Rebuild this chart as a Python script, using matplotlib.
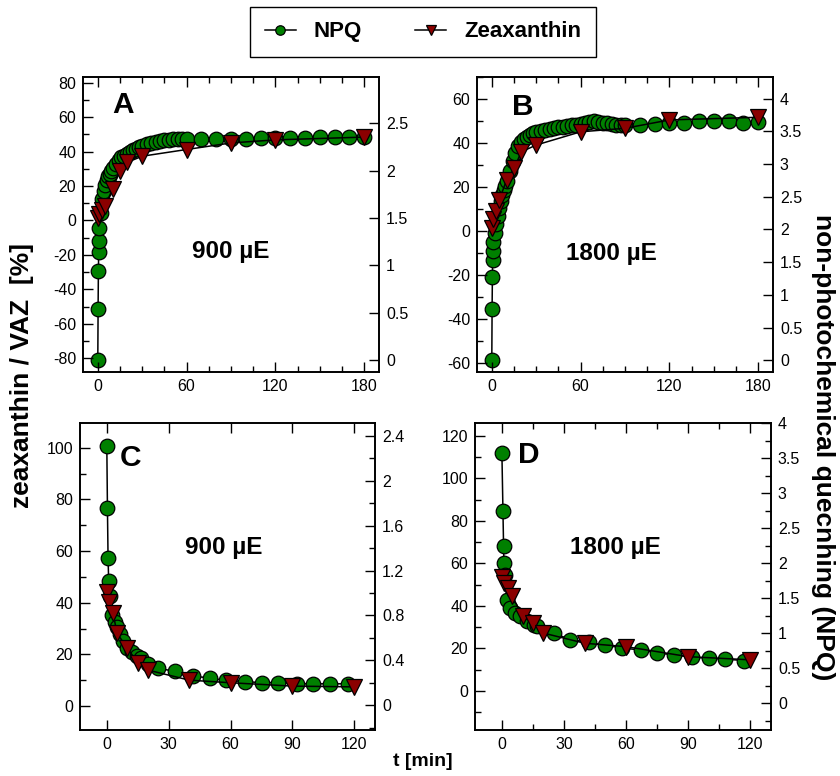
import matplotlib
matplotlib.use('Agg')
import matplotlib.pyplot as plt
from matplotlib.ticker import MultipleLocator, FormatStrFormatter

plt.rcParams['font.family'] = ['Liberation Sans', 'DejaVu Sans']
plt.rcParams['axes.unicode_minus'] = False

# --- panel A: induction, 900 uE ---
a_t_npq = [0, 0.2, 0.4, 0.6, 0.8, 1, 2, 3, 4, 5, 6, 7, 8, 9, 10, 12, 14, 16, 18, 20,
           22, 24, 26, 28, 30, 33, 36, 39, 42, 45, 48, 51, 54, 57, 60,
           70, 80, 90, 100, 110, 120, 130, 140, 150, 160, 170, 180]
a_npq = [0.0, 0.54, 0.94, 1.14, 1.26, 1.39, 1.55, 1.70, 1.79, 1.85, 1.90, 1.94, 1.97, 2.00,
         2.03, 2.07, 2.11, 2.14, 2.16, 2.18, 2.20, 2.22, 2.23, 2.25, 2.26, 2.28, 2.29, 2.30,
         2.31, 2.32, 2.32, 2.33, 2.33, 2.34, 2.34,
         2.33, 2.34, 2.34, 2.34, 2.35, 2.35, 2.35, 2.35, 2.36, 2.36, 2.36, 2.36]
a_t_zea = [0, 1, 3, 5, 10, 15, 20, 30, 60, 90, 120, 180]
a_zea = [1.2, 3.7, 6.0, 8.6, 18.3, 29.0, 33.8, 37.3, 41.2, 45.0, 46.8, 48.4]

# --- panel B: induction, 1800 uE ---
b_t_npq = [0, 0.2, 0.4, 0.6, 0.8, 1, 2, 3, 4, 5, 6, 7, 8, 9, 10, 12, 14, 16, 18, 20,
           22, 24, 26, 28, 30, 33, 36, 39, 42, 45, 48, 51, 54, 57, 60, 63, 66, 69,
           72, 75, 78, 81, 84, 87, 90, 100, 110, 120, 130, 140, 150, 160, 170, 180]
b_npq = [0.0, 0.79, 1.27, 1.53, 1.67, 1.81, 1.95, 2.08, 2.20, 2.33, 2.44, 2.52, 2.60, 2.67,
         2.74, 2.90, 3.05, 3.17, 3.27, 3.33, 3.38, 3.42, 3.45, 3.47, 3.49, 3.51, 3.52, 3.53,
         3.55, 3.56, 3.57, 3.58, 3.59, 3.60, 3.61, 3.62, 3.64, 3.65, 3.64, 3.63, 3.62, 3.61,
         3.60, 3.60, 3.60, 3.60, 3.61, 3.62, 3.63, 3.65, 3.66, 3.66, 3.63, 3.64]
b_t_zea = [0, 1, 3, 5, 10, 15, 20, 30, 60, 90, 120, 180]
b_zea = [1.5, 5.5, 9.2, 14.1, 23.2, 28.5, 36.0, 39.1, 45.1, 46.7, 50.5, 51.7]

# --- panel C: relaxation, 900 uE ---
c_t_npq = [0, 0.3, 0.6, 0.9, 1.3, 2.4, 4, 5, 6.5, 8, 10, 12, 14.5, 16.5, 20, 25, 33, 42,
           50, 58, 67, 75, 83, 92, 100, 108, 117]
c_npq = [2.31, 1.76, 1.31, 1.11, 0.97, 0.80, 0.74, 0.70, 0.63, 0.57, 0.51, 0.47, 0.44,
         0.42, 0.37, 0.33, 0.30, 0.26, 0.24, 0.22, 0.21, 0.20, 0.20, 0.19, 0.19, 0.19, 0.19]
c_t_zea = [0, 1, 3, 5, 10, 15, 20, 40, 60, 90, 120]
c_zea = [44.2, 40.3, 35.9, 28.1, 22.3, 16.8, 13.9, 10.0, 9.0, 7.7, 7.4]

# --- panel D: relaxation, 1800 uE ---
d_t_npq = [0, 0.5, 0.8, 1.0, 1.3, 2.4, 4, 6.4, 8.9, 12.1, 15.3, 17, 25, 33, 42, 50, 58,
           67, 75, 83, 92, 100, 108, 117]
d_npq = [3.57, 2.75, 2.25, 2.0, 1.83, 1.48, 1.36, 1.29, 1.24, 1.17, 1.12, 1.10, 1.0, 0.91,
         0.87, 0.83, 0.79, 0.76, 0.72, 0.69, 0.66, 0.64, 0.63, 0.61]
d_t_zea = [0, 1, 3, 5, 10, 15, 20, 40, 60, 90, 120]
d_zea = [53.8, 50.7, 48.3, 44.7, 35.0, 31.9, 27.2, 22.4, 20.8, 16.1, 14.6]

GREEN = '#008000'
RED = '#8b0000'
W, H = 840, 776


def rect(left, top, right, bottom):
    return [left / W, 1 - bottom / H, (right - left) / W, (bottom - top) / H]


def panel(fig, box, t_npq, npq, t_zea, zea, xlim, xmaj, xmin, ylim, ymaj, ymin,
          rlim, rmaj, rmin, letter, letter_pos, light, light_pos):
    ax = fig.add_axes(box)
    axr = ax.twinx()
    ax.set_zorder(axr.get_zorder() + 1)
    ax.patch.set_visible(False)

    l_npq, = axr.plot(t_npq, npq, '-o', color='black', lw=1.1, ms=10.5,
                      mfc=GREEN, mec='black', mew=0.9)
    l_zea, = ax.plot(t_zea, zea, '-v', color='black', lw=1.1, ms=11,
                     mfc=RED, mec='black', mew=0.9)

    ax.set_xlim(*xlim)
    ax.set_ylim(*ylim)
    axr.set_ylim(*rlim)
    ax.xaxis.set_major_locator(MultipleLocator(xmaj))
    if xmin:
        ax.xaxis.set_minor_locator(MultipleLocator(xmin))
    ax.yaxis.set_major_locator(MultipleLocator(ymaj))
    ax.yaxis.set_minor_locator(MultipleLocator(ymin))
    axr.yaxis.set_major_locator(MultipleLocator(rmaj))
    if rmin:
        axr.yaxis.set_minor_locator(MultipleLocator(rmin))
    axr.yaxis.set_major_formatter(FormatStrFormatter('%g'))

    ax.tick_params(which='both', direction='in', top=True, right=False,
                   labelsize=11.5, width=1, pad=5)
    ax.tick_params(which='major', length=7)
    ax.tick_params(which='minor', length=4.5)
    axr.tick_params(which='both', direction='in', right=True, left=False,
                    labelsize=11.5, width=1, pad=5)
    axr.tick_params(which='major', length=7)
    axr.tick_params(which='minor', length=4.5)
    for a in (ax, axr):
        for s in a.spines.values():
            s.set_linewidth(1.2)

    ax.text(*letter_pos, letter, transform=ax.transAxes, fontsize=21.5,
            fontweight='bold', ha='center', va='center')
    ax.text(*light_pos, light, transform=ax.transAxes, fontsize=17.5,
            fontweight='bold', ha='center', va='center')
    return l_npq, l_zea


fig = plt.figure(figsize=(8.4, 7.76), dpi=100)

h_npq, h_zea = panel(fig, rect(83, 77, 379, 372), a_t_npq, a_npq, a_t_zea, a_zea,
                     (-10, 190), 60, 15, (-88, 83.3), 20, 10,
                     (-0.127, 2.99), 0.5, None, 'A', (0.136, 0.905),
                     '900 µE', (0.50, 0.408))
panel(fig, rect(477, 77, 773, 372), b_t_npq, b_npq, b_t_zea, b_zea,
      (-10, 190), 60, 15, (-64, 70), 20, 10,
      (-0.18, 4.33), 0.5, None, 'B', (0.156, 0.90),
      '1800 µE', (0.455, 0.402))
panel(fig, rect(80, 423, 375, 730), c_t_npq, c_npq, c_t_zea, c_zea,
      (-13, 130), 30, None, (-9.3, 109.6), 20, 10,
      (-0.222, 2.516), 0.4, 0.2, 'C', (0.17, 0.885),
      '900 µE', (0.486, 0.596))
panel(fig, rect(475, 423, 771, 730), d_t_npq, d_npq, d_t_zea, d_zea,
      (-13, 130), 30, 15, (-18.4, 126), 20, 10,
      (-0.381, 4.0), 0.5, 0.25, 'D', (0.183, 0.895),
      '1800 µE', (0.473, 0.596))

fig.legend([h_npq, h_zea], ['NPQ', 'Zeaxanthin'], loc='upper center',
           bbox_to_anchor=(423 / W, 1 - 7 / H), borderaxespad=0, ncol=2,
           fancybox=False, edgecolor='black', framealpha=1, markerscale=0.65,
           handlelength=1.4, handletextpad=0.8, columnspacing=2.4, borderpad=0.65,
           prop={'weight': 'bold', 'size': 16})

fig.text(22 / W, 1 - 375 / H, 'zeaxanthin / VAZ  [%]', rotation=90, fontsize=19,
         fontweight='bold', ha='center', va='center')
fig.text(823 / W, 1 - 447 / H, 'non-photochemical quecnhing (NPQ)', rotation=270,
         fontsize=19, fontweight='bold', ha='center', va='center')
fig.text(423 / W, 1 - 762 / H, 't [min]', fontsize=14, fontweight='bold',
         ha='center', va='center')

fig.savefig('out.png', dpi=100)
